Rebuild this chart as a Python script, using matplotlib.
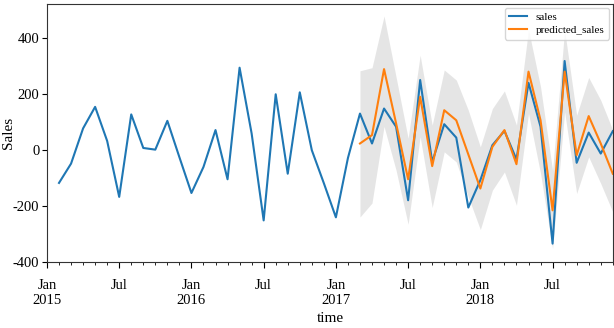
import numpy as np
import matplotlib
matplotlib.use("Agg")
import matplotlib.pyplot as plt

plt.rcParams['font.family'] = ['Liberation Serif', 'DejaVu Serif']
plt.rcParams['axes.unicode_minus'] = False

# months counted from Jan 2015 (0 = Jan 2015)
months = np.arange(1, 48)
sales = [-117, -48, 78, 155, 33, -167, 128, 8, 2, 105, -25, -153,
         -60, 72, -104, 295, 60, -251, 200, -84, 207, 0, -118, -240,
         -28, 131, 24, 149, 84, -179, 251, -42, 93, 45, -205, -107,
         18, 69, -33, 241, 84, -334, 319, -45, 63, -12, 68]

pred_months = np.arange(26, 48)
predicted_sales = [24, 54, 290, 96, -104, 191, -57, 143, 107, -15, -137,
                   12, 72, -50, 281, 107, -215, 281, -18, 122, 24, -84]
upper = [284, 295, 480, 262, 43, 340, 90, 287, 251, 143, 12,
         149, 212, 90, 432, 227, -72, 430, 125, 260, 179, 72]
lower = [-239, -189, 85, -72, -265, 48, -205, -6, -42, -167, -284,
         -143, -78, -197, 131, -83, -352, 137, -155, -24, -119, -221]

tick_pos = [0, 6, 12, 18, 24, 30, 36, 42]
tick_labels = ['Jan\n2015', 'Jul', 'Jan\n2016', 'Jul', 'Jan\n2017', 'Jul', 'Jan\n2018', 'Jul']

fig = plt.figure(figsize=(6.14, 3.28), dpi=100)
ax = fig.add_axes([0.0765, 0.201, 0.9215, 0.787])

ax.fill_between(pred_months, lower, upper, color='grey', alpha=0.2, linewidth=0)
ax.plot(months, sales, color='#1f77b4', lw=1.5, label='sales')
ax.plot(pred_months, predicted_sales, color='#ff7f0e', lw=1.5, label='predicted_sales')

ax.set_xlim(0, 47)
ax.set_ylim(-400, 523)
ax.set_yticks([-400, -200, 0, 200, 400])
ax.set_xticks(tick_pos)
ax.set_xticklabels(tick_labels)
ax.set_xticks(np.arange(0, 48), minor=True)
ax.tick_params(axis='both', labelsize=10.5)
ax.tick_params(axis='y', pad=2)
ax.tick_params(axis='x', which='major', length=4, pad=8)
ax.tick_params(axis='x', which='minor', length=2)

for s in ax.spines.values():
    s.set_color('#333333')

ax.set_xlabel('time', fontsize=11)
ax.set_ylabel('Sales', fontsize=11)
ax.yaxis.set_label_coords(-0.057, 0.5)
ax.legend(loc='upper right', fontsize=8, handlelength=1.6, borderaxespad=0.35,
          labelspacing=0.3)

fig.savefig('out.png', dpi=100)
